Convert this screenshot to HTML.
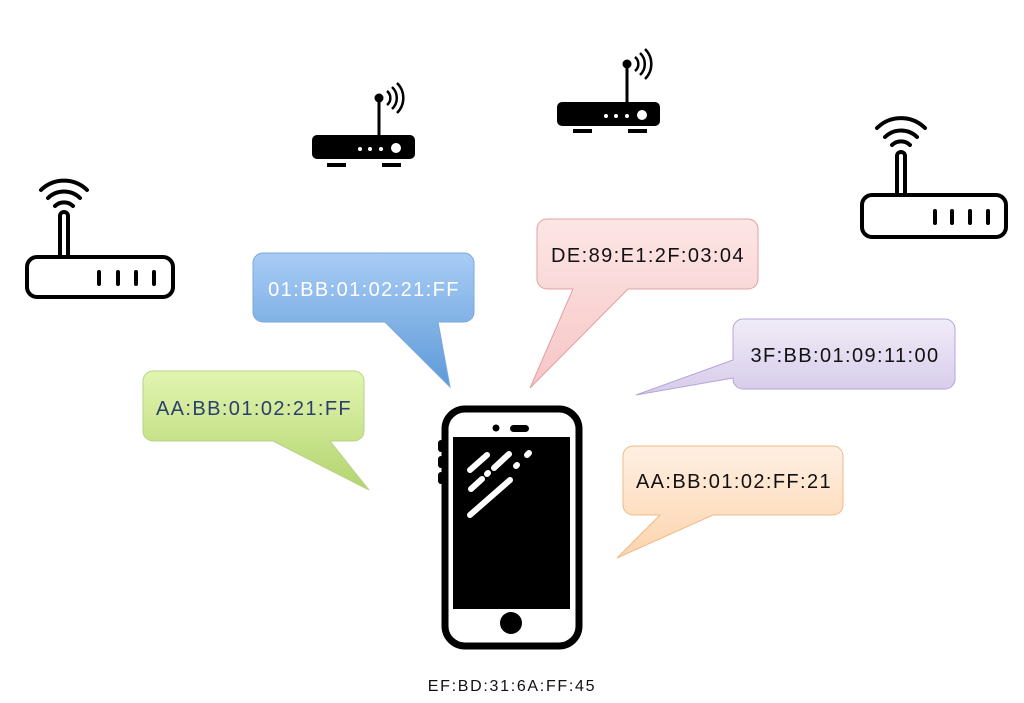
<!DOCTYPE html>
<html><head><meta charset="utf-8"><style>
html,body{margin:0;padding:0;background:#fff;width:1024px;height:703px;overflow:hidden}
text{font-family:"Liberation Sans",sans-serif;font-size:20px;letter-spacing:1.4px}
</style></head><body>
<svg width="1024" height="703" viewBox="0 0 1024 703" xmlns="http://www.w3.org/2000/svg">
<defs>
<linearGradient id="gb" x1="0" y1="0" x2="0" y2="1"><stop offset="0" stop-color="#a9ccf5"/><stop offset="1" stop-color="#5d9ad8"/></linearGradient>
<linearGradient id="gg" x1="0" y1="0" x2="0" y2="1"><stop offset="0" stop-color="#e2f5b0"/><stop offset="1" stop-color="#b3d46e"/></linearGradient>
<linearGradient id="gp" x1="0" y1="0" x2="0" y2="1"><stop offset="0" stop-color="#fde6e6"/><stop offset="1" stop-color="#f7c5c5"/></linearGradient>
<linearGradient id="gv" x1="0" y1="0" x2="0" y2="1"><stop offset="0" stop-color="#f1ecf8"/><stop offset="1" stop-color="#d6cbea"/></linearGradient>
<linearGradient id="go" x1="0" y1="0" x2="0" y2="1"><stop offset="0" stop-color="#fff0e3"/><stop offset="1" stop-color="#fcd4ad"/></linearGradient>
</defs>

<g fill="none" stroke="#000" stroke-width="4" stroke-linecap="round">
<rect x="27" y="257" width="146" height="40" rx="10"/>
<path d="M60 255 V216 a4 4 0 0 1 8 0 V255"/>
<path d="M55 206 a13 13 0 0 1 18 0"/>
<path d="M48 198 a23 23 0 0 1 32 0"/>
<path d="M41 190 a33 33 0 0 1 46 0"/>
<path d="M99 272 v12 M118 272 v12 M136 272 v12 M154 272 v12"/>
</g>
<g fill="none" stroke="#000" stroke-width="4" stroke-linecap="round">
<rect x="862" y="195" width="144" height="42" rx="10"/>
<path d="M897 193 V156 a4 4 0 0 1 8 0 V193"/>
<path d="M892 145 a13 13 0 0 1 18 0"/>
<path d="M885 137 a23 23 0 0 1 32 0"/>
<path d="M877 128 a34 34 0 0 1 48 0"/>
<path d="M935 211 v12 M952 211 v12 M970 211 v12 M988 211 v12"/>
</g>
<g>
<rect x="312" y="135" width="103" height="24" rx="5" fill="#000"/>
<rect x="327" y="163" width="19" height="4" fill="#000"/>
<rect x="382" y="163" width="19" height="4" fill="#000"/>
<rect x="377.5" y="97" width="3" height="40" fill="#000"/>
<circle cx="379" cy="98" r="4.5" fill="#000"/>
<circle cx="360" cy="149" r="2" fill="#fff"/><circle cx="370" cy="149" r="2" fill="#fff"/><circle cx="381" cy="149" r="2" fill="#fff"/><circle cx="396" cy="148" r="5" fill="#fff"/>
<g fill="none" stroke="#000" stroke-width="2.5"><path d="M387 91 a9 9 0 0 1 0 14"/><path d="M392 87 a15 15 0 0 1 0 22"/><path d="M397 83 a21 21 0 0 1 0 30"/></g>
</g>
<g>
<rect x="557" y="102" width="103" height="24" rx="5" fill="#000"/>
<rect x="573" y="129" width="19" height="4" fill="#000"/>
<rect x="628" y="129" width="19" height="4" fill="#000"/>
<rect x="625.5" y="63" width="3" height="40" fill="#000"/>
<circle cx="627" cy="64" r="4.5" fill="#000"/>
<circle cx="606" cy="116" r="2" fill="#fff"/><circle cx="616" cy="116" r="2" fill="#fff"/><circle cx="627" cy="116" r="2" fill="#fff"/><circle cx="642" cy="115" r="5" fill="#fff"/>
<g fill="none" stroke="#000" stroke-width="2.5"><path d="M635 57 a9 9 0 0 1 0 14"/><path d="M640 53 a15 15 0 0 1 0 22"/><path d="M645 49 a21 21 0 0 1 0 30"/></g>
</g>

<path d="M263 253 H464 a10 10 0 0 1 10 10 V312 a10 10 0 0 1 -10 10 H438 L450 387 L385 322 H263 a10 10 0 0 1 -10 -10 V263 a10 10 0 0 1 10 -10Z" fill="url(#gb)" stroke="#7aa8de" stroke-width="1"/>
<text x="364" y="296" text-anchor="middle" fill="#fff">01:BB:01:02:21:FF</text>

<path d="M153 371 H354 a10 10 0 0 1 10 10 V431 a10 10 0 0 1 -10 10 H330 L369 490 L273 441 H153 a10 10 0 0 1 -10 -10 V381 a10 10 0 0 1 10 -10Z" fill="url(#gg)" stroke="#b6d38a" stroke-width="1"/>
<text x="254" y="415" text-anchor="middle" fill="#2b3f6e">AA:BB:01:02:21:FF</text>

<path d="M547 219 H748 a10 10 0 0 1 10 10 V279 a10 10 0 0 1 -10 10 H628 L530 388 L573 289 H547 a10 10 0 0 1 -10 -10 V229 a10 10 0 0 1 10 -10Z" fill="url(#gp)" stroke="#e0a0a0" stroke-width="1"/>
<text x="648" y="262" text-anchor="middle" fill="#111">DE:89:E1:2F:03:04</text>

<path d="M743 319 H945 a10 10 0 0 1 10 10 V379 a10 10 0 0 1 -10 10 H743 a10 10 0 0 1 -10 -10 V378 L636 395 L733 360 V329 a10 10 0 0 1 10 -10Z" fill="url(#gv)" stroke="#b5a6d6" stroke-width="1"/>
<text x="845" y="362" text-anchor="middle" fill="#111">3F:BB:01:09:11:00</text>

<path d="M633 446 H833 a10 10 0 0 1 10 10 V505 a10 10 0 0 1 -10 10 H713 L617 558 L660 515 H633 a10 10 0 0 1 -10 -10 V456 a10 10 0 0 1 10 -10Z" fill="url(#go)" stroke="#f1b987" stroke-width="1"/>
<text x="734" y="488" text-anchor="middle" fill="#111">AA:BB:01:02:FF:21</text>

<rect x="445" y="409" width="134" height="237" rx="20" fill="#fff" stroke="#000" stroke-width="7"/>
<rect x="438" y="440" width="6" height="12" rx="3" fill="#000"/>
<rect x="438" y="456" width="6" height="12" rx="3" fill="#000"/>
<rect x="438" y="472" width="6" height="12" rx="3" fill="#000"/>
<rect x="453" y="437" width="117" height="172" fill="#000"/>
<circle cx="496" cy="428" r="3.5" fill="#000"/>
<rect x="510" y="425" width="19" height="7" rx="3.5" fill="#000"/>
<circle cx="511" cy="623" r="11" fill="#000"/>
<g stroke="#fff" stroke-width="6" stroke-linecap="round" fill="none">
<path d="M470 470 L487 455"/><path d="M494 468 L509 454"/><path d="M527 455 L529 453"/>
<path d="M487 474 L488 473"/><path d="M516 466 L517 465"/>
<path d="M471 489 L482 479"/>
<path d="M470 515 L510 480"/>
</g>
<text x="512" y="691" text-anchor="middle" style="font-size:16px;letter-spacing:1.7px" fill="#111">EF:BD:31:6A:FF:45</text>
</svg>
</body></html>
